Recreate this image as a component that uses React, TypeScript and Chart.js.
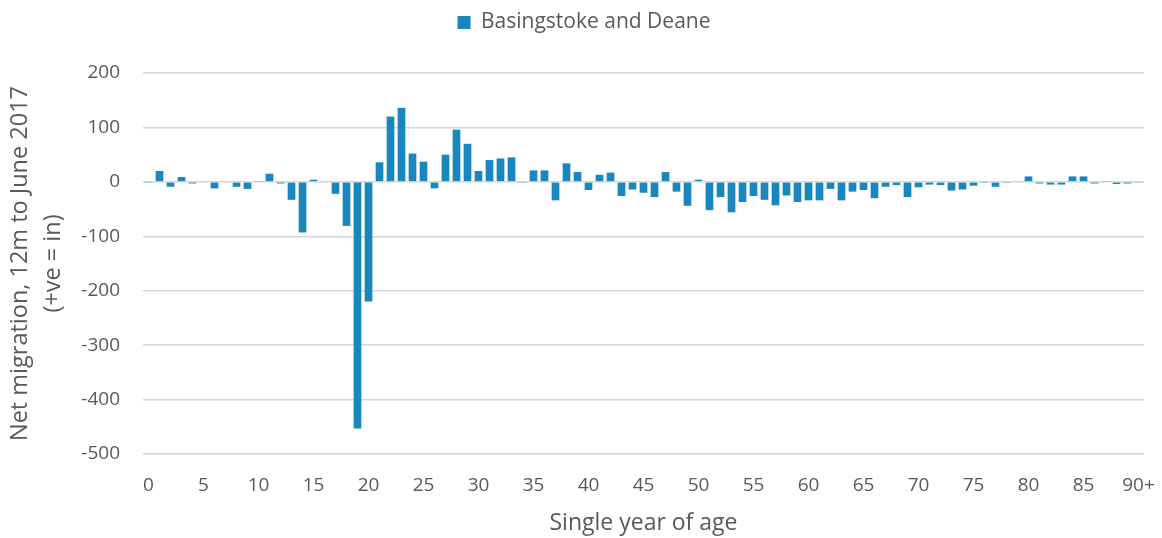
import React, { useEffect, useRef } from "react";
import { Chart, registerables } from "chart.js";

Chart.register(...registerables);

const ageLabels: string[] = [
  "0","1","2","3","4","5","6","7","8","9",
  "10","11","12","13","14","15","16","17","18","19",
  "20","21","22","23","24","25","26","27","28","29",
  "30","31","32","33","34","35","36","37","38","39",
  "40","41","42","43","44","45","46","47","48","49",
  "50","51","52","53","54","55","56","57","58","59",
  "60","61","62","63","64","65","66","67","68","69",
  "70","71","72","73","74","75","76","77","78","79",
  "80","81","82","83","84","85","86","87","88","89",
  "90+",
];

const seriesName = "Basingstoke and Deane";

const netMigration: number[] = [
  -2, 20, -9, 9, -3, 0, -12, 0, -9, -13,
  1, 15, -3, -33, -93, 4, 0, -22, -81, -453,
  -220, 36, 120, 136, 52, 37, -12, 50, 96, 70,
  20, 40, 43, 45, -2, 21, 21, -34, 34, 18,
  -15, 13, 17, -26, -14, -20, -28, 18, -18, -44,
  4, -52, -28, -56, -37, -26, -33, -43, -25, -37,
  -34, -34, -13, -34, -18, -15, -30, -9, -6, -28,
  -10, -5, -6, -16, -14, -7, -2, -9, -2, 0,
  10, -3, -5, -5, 10, 10, -3, 1, -4, -3,
  -1,
];

const yTitle: string[] = ["Net migration, 12m to June 2017", "(+ve = in)"];
const xTitle = "Single year of age";

const BAR = "#1A86BE";
const TEXT = "#595959";
const FONT = "'Open Sans', 'Noto Sans', sans-serif";

export default function App() {
  const ref = useRef<HTMLCanvasElement | null>(null);

  useEffect(() => {
    if (!ref.current) return;
    const legendHeight = {
      id: "legendHeight",
      beforeInit(chart: any) {
        const legend = chart.legend;
        if (!legend) return;
        const orig = legend.fit;
        legend.fit = function () {
          orig.call(this);
          this.height = 73;
        };
      },
      afterLayout(chart: any) {
        const legend = chart.legend;
        if (!legend) return;
        legend.left += 12;
        legend.right += 12;
      },
    };
    const chart = new Chart(ref.current, {
      type: "bar",
      data: {
        labels: ageLabels,
        datasets: [
          {
            label: seriesName,
            data: netMigration,
            backgroundColor: BAR,
            borderWidth: 0,
            barPercentage: 0.7,
            categoryPercentage: 1,
          },
        ],
      },
      plugins: [legendHeight],
      options: {
        animation: false,
        responsive: true,
        maintainAspectRatio: false,
        layout: { padding: { left: 0, right: 18, top: 0, bottom: 0 } },
        plugins: {
          legend: {
            display: true,
            position: "top",
            labels: {
              color: TEXT,
              font: { family: FONT, size: 21 },
              boxWidth: 13,
              boxHeight: 13,
              padding: 12,
            },
          },
          tooltip: { enabled: false },
        },
        scales: {
          x: {
            grid: { display: false },
            border: { display: false },
            ticks: {
              color: TEXT,
              font: { family: FONT, size: 19 },
              autoSkip: false,
              maxRotation: 0,
              minRotation: 0,
              padding: 12,
              callback: (_v: any, i: number) => (i % 5 === 0 ? ageLabels[i] : ""),
            },
            title: {
              display: true,
              text: xTitle,
              color: TEXT,
              font: { family: FONT, size: 23 },
              padding: { top: 0, bottom: 1 },
            },
            afterFit: (s: any) => {
              s.height = 84;
              s.paddingLeft = 0;
              s.paddingRight = 0;
            },
          },
          y: {
            min: -500,
            max: 200,
            border: { display: false },
            grid: {
              color: "#d6d6d6",
              lineWidth: 1.5,
              drawTicks: false,
            },
            ticks: {
              stepSize: 100,
              color: TEXT,
              font: { family: FONT, size: 19 },
              padding: 23,
            },
            title: {
              display: true,
              text: yTitle,
              color: TEXT,
              font: { family: FONT, size: 23.5, lineHeight: 1.4 },
              padding: { top: 4, bottom: 0 },
            },
            afterFit: (s: any) => {
              s.width = 143;
            },
          },
        },
      },
    } as any);
    return () => chart.destroy();
  }, []);

  return (
    <div style={{ position: "fixed", left: 0, top: 0, width: 1162, height: 538, background: "#fff" }}>
      <canvas ref={ref} />
    </div>
  );
}
